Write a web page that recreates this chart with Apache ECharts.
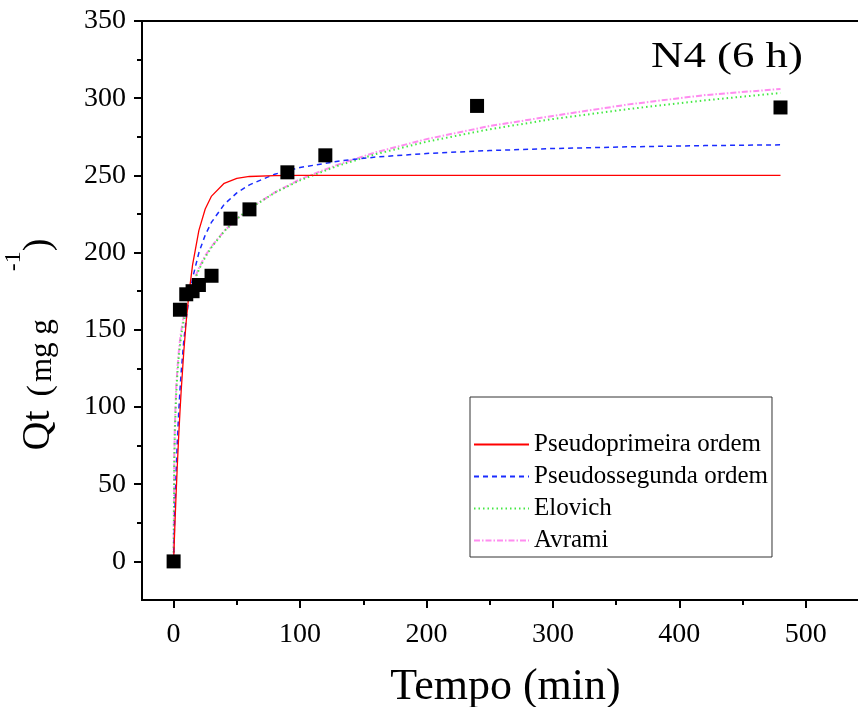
<!DOCTYPE html>
<html>
<head>
<meta charset="utf-8">
<script src="https://cdn.jsdelivr.net/npm/echarts@6.0.0/dist/echarts.min.js"></script>
<style>
  html, body { margin: 0; padding: 0; background: #fff; }
  #chart { width: 858px; height: 707px; }
</style>
</head>
<body>
<div id="chart"></div>
<script>
// Experimental adsorption kinetics, sample N4 (6 h)
const tempo = [0, 5, 10, 15, 20, 30, 45, 60, 90, 120, 240, 480];
const qtExp = [0, 163, 173, 175, 179, 185, 222, 228, 252, 263, 295, 294];

// Fitted kinetic model curves, sampled at these times (min)
const tModel = [0, 0.5, 1, 2, 3, 4, 5, 6, 8, 10, 12, 15, 20, 25, 30, 40, 50, 60, 80, 100, 130, 160, 200, 250, 300, 360, 420, 480];
const qPseudo1 = [0, 11.9, 23.2, 44.3, 63.4, 80.7, 96.4, 110.7, 135.4, 155.7, 172.4, 192.1, 214.4, 228.2, 236.6, 244.9, 248.1, 249.3, 249.9, 250, 250, 250, 250, 250, 250, 250, 250, 250];
const qPseudo2 = [0, 17.3, 32.6, 58.3, 79.0, 96.1, 110.4, 122.6, 142.3, 157.4, 169.4, 183.4, 200.0, 211.4, 219.7, 231.2, 238.7, 243.9, 250.8, 255.1, 259.2, 261.9, 264.2, 266.1, 267.4, 268.5, 269.3, 269.8];
const qElovich = [0, 62.9, 84.5, 107.7, 121.7, 131.8, 139.6, 146.1, 156.3, 164.2, 170.7, 178.7, 189.0, 197.0, 203.5, 213.8, 221.8, 228.4, 238.8, 246.8, 256.3, 263.8, 271.8, 279.9, 286.5, 293.0, 298.6, 303.4];
const qAvrami = [0, 68, 89, 112, 125, 135, 143, 149, 159, 166, 172, 180, 190, 198, 204, 214, 222, 228.5, 239, 247.5, 257, 265, 273.5, 282, 288.5, 296, 302, 306];

// Axis tick values
const xTicks = [0, 100, 200, 300, 400, 500];
const xMinorTicks = [50, 150, 250, 350, 450];
const yTicks = [0, 50, 100, 150, 200, 250, 300, 350];
const yMinorTicks = [25, 75, 125, 175, 225, 275, 325];

const seriesNames = ['Pseudoprimeira ordem', 'Pseudossegunda ordem', 'Elovich', 'Avrami'];

const SERIF = '"Liberation Serif", "Times New Roman", serif';

function pairs(xs, ys) {
  return xs.map((x, i) => [x, ys[i]]);
}

const chart = echarts.init(document.getElementById('chart'), null, { renderer: 'canvas' });

const baseX = {
  type: 'value', gridIndex: 0, min: -25, max: 550,
  splitLine: { show: false }
};
const baseY = {
  type: 'value', gridIndex: 0, min: -25, max: 350,
  splitLine: { show: false }
};

const option = {
  animation: false,
  backgroundColor: '#ffffff',
  grid: {
    left: 142, top: 21, width: 727, height: 579,
    outerBoundsMode: 'none', containLabel: false,
    show: true, borderColor: '#000', borderWidth: 2, backgroundColor: 'transparent'
  },
  xAxis: [
    Object.assign({}, baseX, {
      position: 'bottom',
      axisLine: { show: true, onZero: false, lineStyle: { color: '#000', width: 2 } },
      axisTick: { show: true, length: 8, customValues: xTicks, lineStyle: { color: '#000', width: 2 } },
      axisLabel: { show: true, customValues: xTicks, margin: 21, color: '#000', fontSize: 28, fontFamily: SERIF },
      name: 'Tempo (min)', nameLocation: 'middle', nameGap: 65,
      nameTextStyle: { color: '#000', fontSize: 44, fontFamily: SERIF }
    }),
    Object.assign({}, baseX, {
      position: 'bottom',
      axisLine: { show: false, onZero: false },
      axisTick: { show: true, length: 5, customValues: xMinorTicks, lineStyle: { color: '#000', width: 2 } },
      axisLabel: { show: false }
    })
  ],
  yAxis: [
    Object.assign({}, baseY, {
      position: 'left',
      axisLine: { show: true, onZero: false, lineStyle: { color: '#000', width: 2 } },
      axisTick: { show: true, length: 8, customValues: yTicks, lineStyle: { color: '#000', width: 2 } },
      axisLabel: { show: true, customValues: yTicks, margin: 16, color: '#000', fontSize: 28, fontFamily: SERIF },
      name: '{q|Qt}{p|(}{m|mg g}{s|-1}{c|)}',
      nameLocation: 'middle', nameRotate: 90, nameGap: 84,
      nameTextStyle: {
        color: '#000', fontFamily: SERIF,
        rich: {
          q: { fontSize: 40, lineHeight: 56, fontFamily: SERIF, color: '#000', padding: [0, 14, 0, 0], verticalAlign: 'bottom' },
          p: { fontSize: 34, fontFamily: SERIF, color: '#000', padding: [0, 3, 0, 0], verticalAlign: 'bottom' },
          m: { fontSize: 31, fontFamily: SERIF, color: '#000', padding: [0, 48, 0, 0], verticalAlign: 'bottom' },
          s: { fontSize: 24, fontFamily: SERIF, color: '#000', verticalAlign: 'top' },
          c: { fontSize: 38, fontFamily: SERIF, color: '#000', padding: [0, 68, 0, 0], verticalAlign: 'bottom' }
        }
      }
    }),
    Object.assign({}, baseY, {
      position: 'left',
      axisLine: { show: false, onZero: false },
      axisTick: { show: true, length: 5, customValues: yMinorTicks, lineStyle: { color: '#000', width: 2 } },
      axisLabel: { show: false }
    })
  ],
  legend: {
    data: seriesNames,
    orient: 'vertical',
    left: 470, top: 397,
    padding: [35, 4, 4, 3],
    itemWidth: 55, itemHeight: 14, itemGap: 7,
    itemStyle: { opacity: 0 },
    borderColor: '#333', borderWidth: 1, borderRadius: 0,
    backgroundColor: '#fff',
    textStyle: { color: '#000', fontSize: 25, fontFamily: SERIF }
  },
  graphic: [{
    type: 'text',
    x: 727, y: 58,
    scaleX: 1.28,
    style: {
      text: 'N4 (6 h)',
      font: '35px "Liberation Serif", serif',
      fill: '#000',
      align: 'center',
      verticalAlign: 'middle'
    },
    z: 10
  }],
  series: [
    {
      name: 'Avrami', type: 'line', data: pairs(tModel, qAvrami),
      symbol: 'none', smooth: false, z: 2,
      lineStyle: { color: '#ff8cf0', width: 2, type: [6, 2, 1.5, 2] },
      itemStyle: { color: '#ff8cf0' }
    },
    {
      name: 'Elovich', type: 'line', data: pairs(tModel, qElovich),
      symbol: 'none', smooth: false, z: 3,
      lineStyle: { color: '#44e844', width: 2, type: [1.5, 3] },
      itemStyle: { color: '#44e844' }
    },
    {
      name: 'Pseudossegunda ordem', type: 'line', data: pairs(tModel, qPseudo2),
      symbol: 'none', smooth: false, z: 4,
      lineStyle: { color: '#1a2cff', width: 1.5, type: [5, 4] },
      itemStyle: { color: '#1a2cff' }
    },
    {
      name: 'Pseudoprimeira ordem', type: 'line', data: pairs(tModel, qPseudo1),
      symbol: 'none', smooth: false, z: 5,
      lineStyle: { color: '#ff0000', width: 1.3, type: 'solid' },
      itemStyle: { color: '#ff0000' }
    },
    {
      name: 'Dados', type: 'scatter', data: pairs(tempo, qtExp),
      symbol: 'rect', symbolSize: 14, z: 10,
      itemStyle: { color: '#000', opacity: 1 }
    }
  ]
};

chart.setOption(option);
</script>
</body>
</html>
